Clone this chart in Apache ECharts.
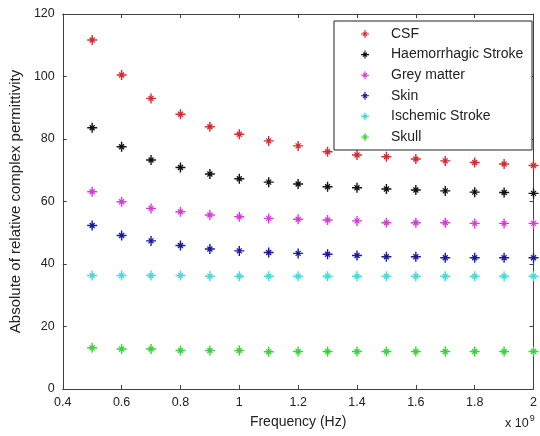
<!DOCTYPE html>
<html>
<head>
<meta charset="utf-8">
<script src="https://cdn.jsdelivr.net/npm/echarts@6/dist/echarts.min.js"></script>
<style>html,body{margin:0;padding:0;background:#fff;}#c{width:540px;height:436px;}</style>
</head>
<body>
<div id="c"></div>
<script>
const freq = [0.5,0.6,0.7,0.8,0.9,1.0,1.1,1.2,1.3,1.4,1.5,1.6,1.7,1.8,1.9,2.0];
const csf = [111.7,100.5,93.0,87.9,83.9,81.5,79.4,77.8,75.9,74.9,74.3,73.6,73.0,72.5,72.0,71.5];
const haem = [83.6,77.5,73.3,70.9,68.8,67.3,66.2,65.6,64.7,64.4,64.0,63.7,63.4,63.0,62.9,62.6];
const grey = [63.1,59.9,57.8,56.7,55.7,55.1,54.6,54.3,54.1,53.8,53.2,53.2,53.2,53.0,53.0,53.0];
const skin = [52.3,49.1,47.4,45.9,44.8,44.2,43.7,43.4,43.1,42.7,42.3,42.3,42.0,42.0,42.0,42.0];
const ischemic = [36.3,36.3,36.3,36.3,36.1,36.1,36.1,36.1,36.1,36.1,36.1,36.1,36.1,36.1,36.1,36.1];
const skull = [13.2,12.8,12.8,12.3,12.3,12.3,11.9,12.0,12.0,12.0,12.0,12.0,12.0,12.0,12.0,12.0];
const seriesNames = ['CSF','Haemorrhagic Stroke','Grey matter','Skin','Ischemic Stroke','Skull'];
const seriesValues = [csf, haem, grey, skin, ischemic, skull];
const colors = ['#d42a30','#111111','#d83cd8','#1a1a9a','#4ad8d8','#3cd23c'];
const xTicks = {min:0.4, max:2.0, interval:0.2};
const yTicks = {min:0, max:120, interval:20};

const star = 'path://M-0.7,-5 L0.7,-5 L0.7,5 L-0.7,5 Z M-5,-0.7 L5,-0.7 L5,0.7 L-5,0.7 Z ' +
  'M-2.05,-2.95 L2.95,2.05 L2.05,2.95 L-2.95,-2.05 Z M2.05,-2.95 L2.95,-2.05 L-2.05,2.95 L-2.95,2.05 Z';

const font = 'Liberation Sans, Arial, sans-serif';
const axisCol = '#404040';
const txt = '#222';
const chart = echarts.init(document.getElementById('c'));

const series = seriesNames.map((n,i)=>({
  name:n, type:'scatter', symbol:star, symbolSize:10,
  itemStyle:{color:colors[i], opacity:1},
  data: freq.map((f,j)=>[f, seriesValues[i][j]]),
  xAxisIndex:0, yAxisIndex:0, clip:false
}));

chart.setOption({
  animation:false,
  backgroundColor:'#fff',
  textStyle:{fontFamily:font},
  grid:{left:61, right:3, top:14, bottom:47, containLabel:false},
  xAxis:[{
    type:'value', min:xTicks.min, max:xTicks.max, interval:xTicks.interval,
    name:'Frequency (Hz)', nameLocation:'middle', nameGap:26,
    nameTextStyle:{fontSize:14, color:txt, fontFamily:font},
    axisLine:{show:true, onZero:false, lineStyle:{color:axisCol}},
    axisTick:{show:true, inside:true, length:4, lineStyle:{color:axisCol}},
    axisLabel:{fontSize:12.5, color:txt, margin:7, fontFamily:font},
    splitLine:{show:false}
  },{
    type:'value', position:'top', min:xTicks.min, max:xTicks.max, interval:xTicks.interval,
    axisLine:{show:true, onZero:false, lineStyle:{color:axisCol}},
    axisTick:{show:true, inside:true, length:4, lineStyle:{color:axisCol}},
    axisLabel:{show:false}, splitLine:{show:false}
  }],
  yAxis:[{
    type:'value', min:yTicks.min, max:yTicks.max, interval:yTicks.interval,
    name:'Absolute of relative complex permittivity', nameLocation:'middle', nameGap:37,
    nameTextStyle:{fontSize:15, color:txt, fontFamily:font},
    axisLine:{show:true, onZero:false, lineStyle:{color:axisCol}},
    axisTick:{show:true, inside:true, length:4, lineStyle:{color:axisCol}},
    axisLabel:{fontSize:12.5, color:txt, margin:8, fontFamily:font},
    splitLine:{show:false}
  },{
    type:'value', position:'right', min:yTicks.min, max:yTicks.max, interval:yTicks.interval,
    axisLine:{show:true, onZero:false, lineStyle:{color:axisCol}},
    axisTick:{show:true, inside:true, length:4, lineStyle:{color:axisCol}},
    axisLabel:{show:false}, splitLine:{show:false}
  }],
  legend:{
    orient:'vertical', left:361, top:27, padding:0,
    itemWidth:8, itemHeight:8, itemGap:6.6,
    data:seriesNames,
    textStyle:{fontSize:14, color:txt, fontFamily:font, lineHeight:14, padding:[0,0,0,17]},
    z:10
  },
  graphic:[
    {type:'rect', z:5, shape:{x:334, y:21, width:198, height:129},
     style:{fill:'#fff', stroke:'#222', lineWidth:1}},
    {type:'text', left:505, top:414, z:5,
     style:{text:'{b|x 10}{s|9}', fill:txt,
       rich:{b:{fontSize:12.5, fontFamily:font, fill:txt, padding:[6,0,0,0]},
             s:{fontSize:9, fontFamily:font, fill:txt, padding:[0,0,4,1]}}}}
  ],
  series:series
});
</script>
</body>
</html>
